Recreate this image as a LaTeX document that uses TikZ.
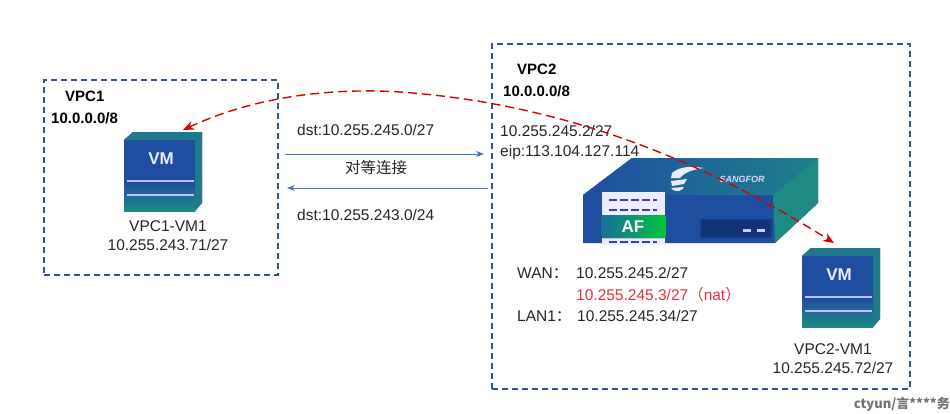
\documentclass[tikz,border=0pt]{standalone}
\usepackage{fontspec}
\setmainfont{Liberation Sans}
\newfontfamily\cjk{Noto Sans CJK SC}
\usetikzlibrary{arrows.meta,decorations.pathmorphing}
\definecolor{boxblue}{HTML}{2F5597}
\definecolor{arrowblue}{HTML}{4472C4}
\definecolor{txt}{HTML}{262626}
\definecolor{devblue}{HTML}{1F4EA1}
\definecolor{devdark}{HTML}{163C8C}
\definecolor{teal1}{HTML}{1F8A84}
\definecolor{natred}{HTML}{E8303A}
\tikzset{
  x=1pt,y=-1pt,
  vpcbox/.style={draw=boxblue,line width=1.4pt,dash pattern=on 6pt off 4pt},
  label/.style={inner sep=0pt,text=txt,font=\fontsize{15.5}{19}\selectfont,align=center},
  vpclabel/.style={inner sep=0pt,text=black,font=\fontsize{15}{19}\selectfont\bfseries,align=left,anchor=west},
  peer/.style={draw=arrowblue,line width=0.9pt,-{Stealth[length=8pt,width=6pt]}},
  nat/.style={draw=red!85!black,line width=1.4pt,dash pattern=on 9pt off 5pt,{Stealth[length=11pt,width=9pt]}-{Stealth[length=11pt,width=9pt]}},
  vmicon/.pic={
    \fill[devblue] (0,8) -- (9,0) -- (78,0) -- (78,71) -- (71,79) -- (0,79) -- cycle;
    \fill[teal1!70!devblue] (0,8) -- (9,0) -- (78,0) -- (71,8) -- cycle;
    \fill[teal1!75!devblue] (71,8) -- (78,0) -- (78,71) -- (71,79) -- cycle;
    \shade[top color=devblue,bottom color=teal1] (0,50) rectangle (71,79);
    \draw[blue!25!white,line width=1.5pt] (3,49) -- (70,49);
    \draw[blue!25!white,line width=1.5pt] (3,63) -- (70,63);
    \node[text=white!92!blue,font=\fontsize{17}{17}\selectfont\bfseries,inner sep=0pt] at (37,27) {VM};
  }
}
\begin{document}
\begin{tikzpicture}
\useasboundingbox (0,0) rectangle (950,413);
\fill[white] (0,0) rectangle (950,413);

% boxes
\node[vpcbox,minimum width=234pt,minimum height=195pt,inner sep=0pt] (vpc1) at (161,177.5) {};
\node[vpcbox,minimum width=418pt,minimum height=345pt,inner sep=0pt] (vpc2) at (701,216.5) {};

% VM icons
\pic at (124,132) {vmicon};
\pic at (802,248) {vmicon};

% firewall device
\fill[devblue] (583,195) -- (632,158) -- (818,158) -- (818,203) -- (775,243) -- (583,243) -- cycle;
\shade[left color=devblue,right color=teal1!85!devblue] (583,195) -- (632,158) -- (818,158) -- (773,195) -- cycle;
\fill[teal1] (773,195) -- (818,158) -- (818,203) -- (775,243) -- cycle;
\fill[devdark] (700,219) rectangle (772,238);
\fill[devdark!85!black] (702,220) rectangle (770,237);
\fill[white!80!blue] (743,229) rectangle (751,232);
\fill[white!80!blue] (757,229) rectangle (765,232);
\fill[white!93!blue] (602,192) rectangle (665,245);
\foreach \y in {200,210,242}{
  \draw[blue!55!gray,line width=2.5pt,dash pattern=on 8pt off 3pt] (609,\y) -- (657,\y);
}
\fill[rounded corners=2pt,left color=teal1!80!blue,right color=green!55!teal] (601,215) rectangle (666,238);
\node[text=white,font=\fontsize{17}{17}\selectfont\bfseries,inner sep=0pt] (af) at (633,227) {AF};
\fill[white!92!blue] (672,173) .. controls (680,166) and (692,166) .. (704,168) .. controls (692,170) and (685,172) .. (680,178) -- (671,178) -- cycle;
\fill[white!92!blue] (671,181) -- (687,179) -- (684,184) -- (672,186) -- cycle;
\fill[white!92!blue] (671,188) -- (684,187) .. controls (682,191) and (677,192) .. (673,190) -- cycle;
\node[text=white!85!blue,font=\fontsize{9}{9}\selectfont\bfseries\itshape,inner sep=0pt] (brand) at (742,179) {SANGFOR};

% labels
\node[vpclabel] (l1a) at (65,96) {VPC1};
\node[vpclabel] (l1b) at (51,118) {10.0.0.0/8};
\node[vpclabel] (l2a) at (517,69) {VPC2};
\node[vpclabel] (l2b) at (503,91) {10.0.0.0/8};

\node[label,anchor=center] (vm1txt) at (168,236) {VPC1-VM1\\10.255.243.71/27};
\node[label,anchor=center] (vm2txt) at (833,359) {VPC2-VM1\\10.255.245.72/27};

\node[label,anchor=west] (dst1) at (297,130) {dst:10.255.245.0/27};
\node[label,anchor=west] (dst2) at (297,215) {dst:10.255.243.0/24};
\node[label,anchor=center,font=\cjk\fontsize{15.5}{19}\selectfont] (peerlbl) at (376,168) {对等连接};
\node[label,anchor=west] (ip1) at (500,131) {10.255.245.2/27};
\node[label,anchor=west] (ip2) at (500,152) {eip:113.104.127.114};

\node[label,anchor=west] (wan) at (517,273) {WAN{\cjk：}};
\node[label,anchor=west] (wanip) at (576,273) {10.255.245.2/27};
\node[label,anchor=west,text=natred] (natip) at (576,295) {10.255.245.3/27{\cjk（}nat{\cjk）}};
\node[label,anchor=west] (lan) at (517,316) {LAN1{\cjk：}};
\node[label,anchor=west] (lanip) at (577,316) {10.255.245.34/27};

\node[inner sep=0pt,anchor=east,text=black!55,font=\cjk\fontsize{13}{13}\selectfont\bfseries] (wm) at (950,404) {ctyun/言****务};

% connectors
\coordinate (a1) at (285,154);
\coordinate (a2) at (484,154);
\coordinate (b1) at (488,188);
\coordinate (b2) at (287,188);
\draw[peer] (a1) -- (a2);
\draw[peer] (b1) -- (b2);
\coordinate (n1) at (183,130);
\coordinate (n2) at (400,92);
\coordinate (n3) at (834,243);
\draw[nat] (n1) .. controls (260,94) and (340,88) .. (n2) .. controls (570,104) and (710,165) .. (n3);
\end{tikzpicture}
\end{document}
